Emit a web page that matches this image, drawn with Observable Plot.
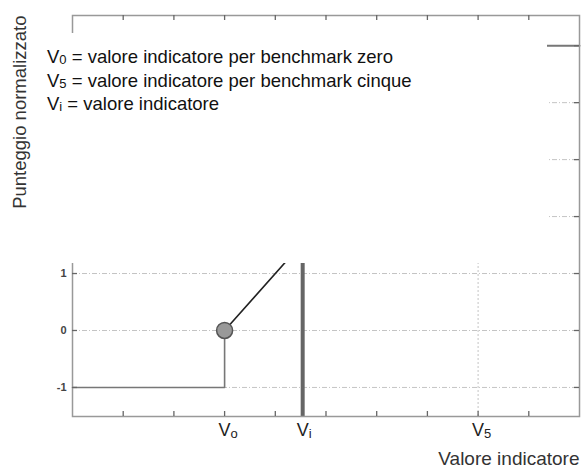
<!DOCTYPE html>
<html>
<head>
<meta charset="utf-8">
<script src="https://cdn.jsdelivr.net/npm/d3@7"></script>
<script src="https://cdn.jsdelivr.net/npm/@observablehq/plot@0.6"></script>
<style>
  html, body { margin: 0; padding: 0; background: #fff; }
  #wrap { position: relative; width: 581px; height: 468px; font-family: "Liberation Sans", Arial, sans-serif; }
  #legend { position: absolute; left: 40px; top: 33px; width: 507px; height: 230px; background: #fff;
            font-size: 18.5px; color: #111; line-height: 23.5px; padding: 12px 0 0 7px; box-sizing: border-box; }
  #legend sub { font-size: 13px; vertical-align: -1px; line-height: 0; }
</style>
</head>
<body>
<div id="wrap"></div>
<script>
// ---- data ----
const xTicks = [1, 2, 3, 4, 5, 6, 7, 8, 9];
const yTicks = [-1, 0, 1];
const sideTicks = [-1, 0, 1, 2, 3, 4, 5];
const gridY = [-1, 0, 1, 2, 3, 4];
const v0 = 3, v5 = 8, vi = 4.54;
const yMin = -1.51, yMax = 5.53;
const lowX = [0, 3, 3], lowY = [-1, -1, 0];
const riseX = [3, 8], riseY = [0, 5];
const highX = [8, 10], highY = [5, 5];
const labelX = [v0, vi, v5];
const labelSub = ["o", "i", "5"];
const legendLines = [["0", "valore indicatore per benchmark zero"], ["5", "valore indicatore per benchmark cinque"], ["i", "valore indicatore"]];

const W = 581, H = 468, mL = 72, mR = 2, mT = 15, mB = 52;
const innerW = W - mL - mR, innerH = H - mT - mB;
const pts = (xs, ys) => xs.map((x, i) => ({x, y: ys[i]}));
const labels = labelX.map((x, i) => ({x, s: labelSub[i]}));
const font = "Liberation Sans, Arial, sans-serif";

const chart = Plot.plot({
  width: W, height: H,
  marginLeft: mL, marginRight: mR, marginTop: mT, marginBottom: mB,
  style: {fontFamily: font, background: "#fff"},
  x: {domain: [0, 10]},
  y: {domain: [yMin, yMax]},
  marks: [
    Plot.ruleY(gridY, {stroke: "#c4c4c4", strokeWidth: 1, strokeDasharray: "5,2,1,2"}),
    Plot.ruleX([v5], {y1: yMin, y2: 2, stroke: "#c4c4c4", strokeWidth: 1, strokeDasharray: "2,2"}),
    Plot.line(pts(lowX, lowY), {x: "x", y: "y", stroke: "#777", strokeWidth: 1.6}),
    Plot.line(pts(riseX, riseY), {x: "x", y: "y", stroke: "#222", strokeWidth: 1.6}),
    Plot.line(pts(highX, highY), {x: "x", y: "y", stroke: "#777", strokeWidth: 2}),
    Plot.ruleX([vi], {y1: yMin, y2: 2, stroke: "#666", strokeWidth: 4}),
    Plot.dot([{x: v0, y: 0}], {x: "x", y: "y", r: 8, fill: "#999", stroke: "#555", strokeWidth: 1.5}),
    Plot.frame({stroke: "#999", strokeWidth: 1.5}),
    Plot.tickX(xTicks, {x: d => d, stroke: "#666", strokeWidth: 1.3, insetTop: innerH - 5}),
    Plot.tickX(xTicks, {x: d => d, stroke: "#666", strokeWidth: 1.3, insetBottom: innerH - 5}),
    Plot.tickY(sideTicks, {y: d => d, stroke: "#666", strokeWidth: 1.3, insetRight: innerW - 5}),
    Plot.tickY(sideTicks, {y: d => d, stroke: "#666", strokeWidth: 1.3, insetLeft: innerW - 5}),
    Plot.axisY(yTicks, {tickSize: 0, tickPadding: 6, fontSize: 11, fontWeight: "bold", fill: "#444", label: null, tickFormat: d => String(d)}),
    Plot.axisX([], {label: null, tickSize: 0}),
    Plot.text(labels, {x: "x", text: () => "V", frameAnchor: "bottom", dy: 19, fontSize: 18, fill: "#222", textAnchor: "middle"}),
    Plot.text(labels, {x: "x", text: "s", frameAnchor: "bottom", dy: 21, dx: 6, fontSize: 13, fill: "#222", textAnchor: "start"}),
    Plot.text(["Punteggio normalizzato"], {text: d => d, frameAnchor: "top-left", dx: -60, dy: 0, rotate: -90, textAnchor: "end", fontSize: 18.5, fill: "#333"}),
    Plot.text(["Valore indicatore"], {text: d => d, frameAnchor: "bottom-right", dx: 0, dy: 48, textAnchor: "end", fontSize: 19, fill: "#333"})
  ]
});

const wrap = document.getElementById("wrap");
wrap.appendChild(chart);
const legend = document.createElement("div");
legend.id = "legend";
legend.innerHTML = legendLines.map(([s, t]) => `<div>V<sub>${s}</sub> = ${t}</div>`).join("");
wrap.appendChild(legend);
</script>
</body>
</html>
